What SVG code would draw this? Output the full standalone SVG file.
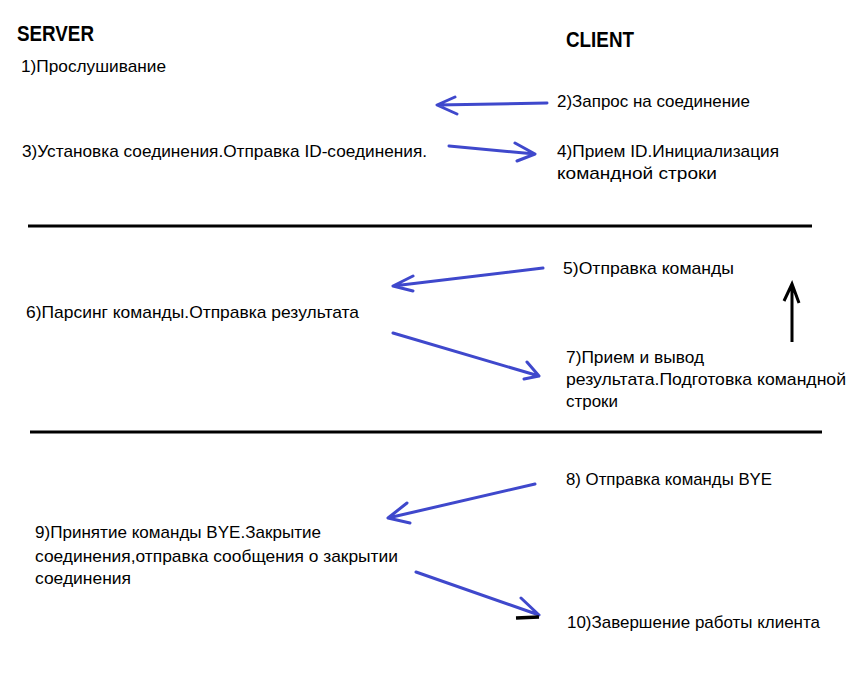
<svg xmlns="http://www.w3.org/2000/svg" width="862" height="683" viewBox="0 0 862 683">
<style>
.t{font-family:"Liberation Sans",Arial,sans-serif;font-size:17px;fill:#000}
.h{font-family:"Liberation Sans",Arial,sans-serif;font-size:22px;font-weight:bold;fill:#000}
.b{fill:none;stroke:#3f48cc;stroke-width:3;stroke-linecap:round;stroke-linejoin:round}
.k{fill:none;stroke:#000;stroke-width:3}
</style>
<rect width="862" height="683" fill="#fff"/>
<g id="headers">
<text class="h" x="17" y="41" textLength="77" lengthAdjust="spacingAndGlyphs">SERVER</text>
<text class="h" x="566" y="47" textLength="68" lengthAdjust="spacingAndGlyphs">CLIENT</text>
</g>
<g id="separators">
<line class="k" x1="28" y1="226" x2="812" y2="226"/>
<line class="k" x1="30" y1="432" x2="822" y2="432"/>
</g>
<g id="n1"><text class="t" x="21" y="72" textLength="145" lengthAdjust="spacingAndGlyphs">1)Прослушивание</text></g>
<g id="n2"><text class="t" x="557" y="107" textLength="193" lengthAdjust="spacingAndGlyphs">2)Запрос на соединение</text></g>
<g id="n3"><text class="t" x="22" y="157" textLength="405" lengthAdjust="spacingAndGlyphs">3)Установка соединения.Отправка ID-соединения.</text></g>
<g id="n4">
<text class="t" x="557" y="157" textLength="222" lengthAdjust="spacingAndGlyphs">4)Прием ID.Инициализация</text>
<text class="t" x="557" y="179" textLength="160" lengthAdjust="spacingAndGlyphs">командной строки</text>
</g>
<g id="n5"><text class="t" x="563" y="274" textLength="171" lengthAdjust="spacingAndGlyphs">5)Отправка команды</text></g>
<g id="n6"><text class="t" x="26" y="318" textLength="333" lengthAdjust="spacingAndGlyphs">6)Парсинг команды.Отправка результата</text></g>
<g id="n7">
<text class="t" x="566" y="363" textLength="138" lengthAdjust="spacingAndGlyphs">7)Прием и вывод</text>
<text class="t" x="566" y="385" textLength="280" lengthAdjust="spacingAndGlyphs">результата.Подготовка командной</text>
<text class="t" x="566" y="407" textLength="52" lengthAdjust="spacingAndGlyphs">строки</text>
</g>
<g id="n8"><text class="t" x="566" y="485" textLength="206" lengthAdjust="spacingAndGlyphs">8) Отправка команды BYE</text></g>
<g id="n9">
<text class="t" x="35" y="538" textLength="286" lengthAdjust="spacingAndGlyphs">9)Принятие команды BYE.Закрытие</text>
<text class="t" x="35" y="562" textLength="363" lengthAdjust="spacingAndGlyphs">соединения,отправка сообщения о закрытии</text>
<text class="t" x="35" y="584" textLength="96" lengthAdjust="spacingAndGlyphs">соединения</text>
</g>
<g id="n10"><text class="t" x="567" y="628" textLength="253" lengthAdjust="spacingAndGlyphs">10)Завершение работы клиента</text></g>
<g id="connectors">
<path class="b" d="M547,103 L437,105 M455,97 L437,105 L457,114"/>
<path class="b" d="M449,146 L535,154 M515,143 L535,154 L517,161"/>
<path class="b" d="M543,268 L393,286 M413,276 L393,286 L413,291"/>
<path class="b" d="M393,333 L539,376 M527,362 L539,376 L524,379"/>
<path class="k" d="M792,342 L792,284 M784,301 L792,284 L799,303"/>
<path class="b" d="M535,484 L388,518 M407,503 L388,518 L410,523"/>
<path class="b" d="M416,572 L539,615 M521,598 L539,615"/>
<path d="M516,618 L539,617" stroke="#000" stroke-width="3.5" fill="none"/>
</g>
</svg>
